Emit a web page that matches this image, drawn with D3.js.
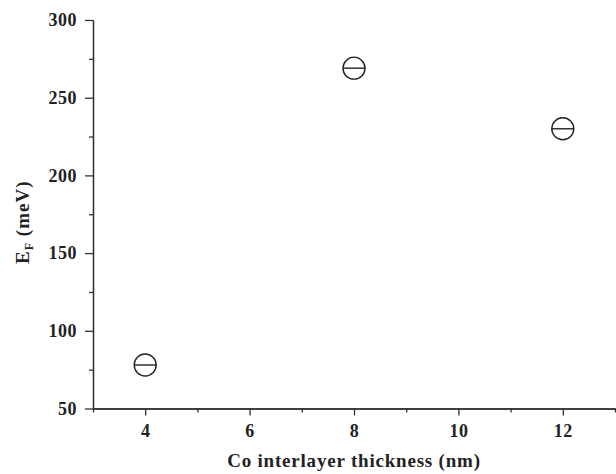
<!DOCTYPE html>
<html>
<head>
<meta charset="utf-8">
<script src="https://cdn.jsdelivr.net/npm/d3@7"></script>
<style>
  body { margin: 0; background: #fff; }
  text { font-family: "Liberation Serif", "DejaVu Serif", serif; font-weight: bold; fill: #222; }
</style>
</head>
<body>
<script>
var thickness = [4, 8, 12];
var energy = [78, 269, 230];
var xTicks = [4, 6, 8, 10, 12];
var xMinor = [3, 5, 7, 9, 11, 13];
var yTicks = [50, 100, 150, 200, 250, 300];
var yMinor = [75, 125, 175, 225, 275];

var width = 616, height = 474;
var margin = {top: 20, right: 1, bottom: 66, left: 93};

var svg = d3.select("body")
  .append("svg")
  .attr("width", width)
  .attr("height", height);

var x = d3.scaleLinear()
  .domain([3, 13])
  .range([margin.left, width - margin.right]);

var y = d3.scaleLinear()
  .domain([50, 300])
  .range([height - margin.bottom + 0.5, margin.top]);

svg.append("g")
  .attr("transform", "translate(0," + y(50) + ")")
  .call(d3.axisBottom(x).tickValues(xTicks).tickSize(7).tickSizeOuter(0).tickPadding(9));

svg.append("g")
  .attr("transform", "translate(0," + y(50) + ")")
  .call(d3.axisBottom(x).tickValues(xMinor).tickSize(4).tickSizeOuter(0).tickFormat(""));

svg.append("g")
  .attr("transform", "translate(" + x(3) + ",0)")
  .call(d3.axisLeft(y).tickValues(yTicks).tickSize(8).tickSizeOuter(0).tickPadding(8));

svg.append("g")
  .attr("transform", "translate(" + x(3) + ",0)")
  .call(d3.axisLeft(y).tickValues(yMinor).tickSize(4).tickSizeOuter(0).tickFormat(""));

svg.selectAll(".domain, .tick line")
  .attr("stroke", "#333")
  .attr("stroke-width", 1.3);

svg.selectAll(".tick text")
  .attr("font-size", "18px")
  .attr("font-family", "Liberation Serif")
  .attr("font-weight", "bold")
  .attr("letter-spacing", "0.5px")
  .attr("fill", "#222");

// markers: open circle with horizontal bar
var pts = svg.append("g")
  .selectAll("g")
  .data(thickness)
  .enter().append("g")
  .attr("transform", function(d, i) { return "translate(" + x(d) + "," + y(energy[i]) + ")"; });

pts.append("circle")
  .attr("r", 11)
  .attr("fill", "none")
  .attr("stroke", "#222")
  .attr("stroke-width", 1.4);

pts.append("line")
  .attr("x1", -11).attr("x2", 11)
  .attr("stroke", "#222")
  .attr("stroke-width", 1.4);

// axis titles
svg.append("text")
  .attr("x", (x(3) + x(13)) / 2)
  .attr("y", 467)
  .attr("text-anchor", "middle")
  .attr("font-size", "19px")
  .attr("letter-spacing", "0.8px")
  .text("Co interlayer thickness (nm)");

var yt = svg.append("text")
  .attr("transform", "translate(29," + ((y(50) + y(300)) / 2 + 8) + ") rotate(-90)")
  .attr("text-anchor", "middle")
  .attr("font-size", "19px")
  .attr("letter-spacing", "1px");
yt.append("tspan").text("E");
yt.append("tspan").attr("font-size", "12px").attr("dy", 4).text("F");
yt.append("tspan").attr("dy", -4).text(" (meV)");
</script>
</body>
</html>
